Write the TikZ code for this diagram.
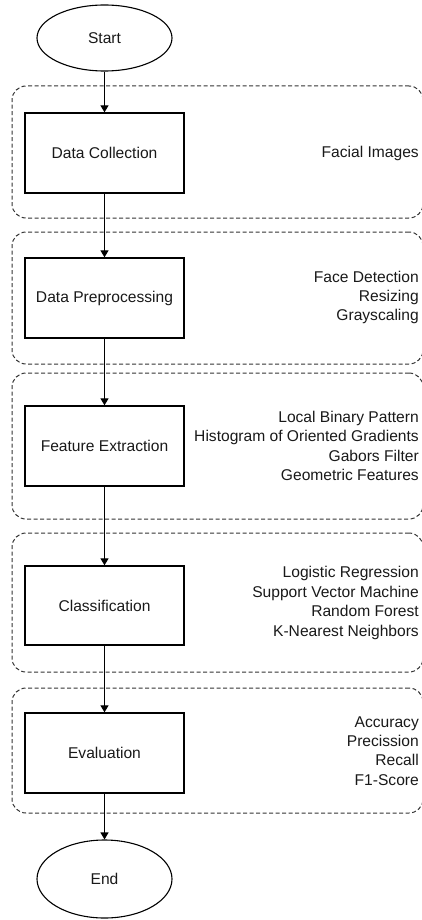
\documentclass[tikz,border=0pt]{standalone}
\usepackage{fontspec}
\setmainfont{Liberation Sans}
\usetikzlibrary{arrows.meta,shapes.geometric}
\begin{document}
\begin{tikzpicture}[x=1pt,y=-1pt,
  every node/.style={font=\fontsize{15.6}{19.4}\selectfont, text=black!90},
  term/.style={draw, ellipse, line width=1.1pt, minimum width=135pt, inner sep=0pt},
  stepbox/.style={draw, rectangle, line width=1.3pt, minimum width=159pt, minimum height=80pt, inner sep=0pt},
  group/.style={draw=black!80, rectangle, rounded corners=14pt, dash pattern=on 4pt off 2.5pt, line width=1pt, minimum width=411pt, inner sep=0pt},
  info/.style={anchor=east, align=right, inner sep=0pt},
  flow/.style={line width=1.2pt, -{Triangle[length=7pt,width=8pt]}}
]
\useasboundingbox (0,0) rectangle (422,920);
\clip (0,0) rectangle (422,920);
% groups
\node[group, minimum height=132pt] (g1) at (217.5,152) {};
\node[group, minimum height=132pt] (g2) at (217.5,298) {};
\node[group, minimum height=146pt] (g3) at (217.5,446) {};
\node[group, minimum height=139pt] (g4) at (217.5,602.5) {};
\node[group, minimum height=125pt] (g5) at (217.5,750.5) {};
% terminals
\node[term, minimum height=66pt] (start) at (104.5,38) {Start};
\node[term, minimum height=78pt] (end) at (104.5,879) {End};
% steps
\node[stepbox] (b1) at (104.5,153) {Data Collection};
\node[stepbox] (b2) at (104.5,298) {Data Preprocessing};
\node[stepbox] (b3) at (104.5,446) {Feature Extraction};
\node[stepbox, minimum height=79pt] (b4) at (104.5,605.5) {Classification};
\node[stepbox] (b5) at (104.5,753) {Evaluation};
% info texts
\node[info] (t1) at (419,153) {Facial Images};
\node[info] (t2) at (419,297.5) {Face Detection\\Resizing\\Grayscaling};
\node[info] (t3) at (419,446) {Local Binary Pattern\\Histogram of Oriented Gradients\\Gabors Filter\\Geometric Features};
\node[info] (t4) at (419,603) {Logistic Regression\\Support Vector Machine\\Random Forest\\K-Nearest Neighbors};
\node[info] (t5) at (419,751) {Accuracy\\Precission\\Recall\\F1-Score};
% connectors
\draw[flow] (start) -- (b1);
\draw[flow] (b1) -- (b2);
\draw[flow] (b2) -- (b3);
\draw[flow] (b3) -- (b4);
\draw[flow] (b4) -- (b5);
\draw[flow] (b5) -- (end);
\end{tikzpicture}
\end{document}
